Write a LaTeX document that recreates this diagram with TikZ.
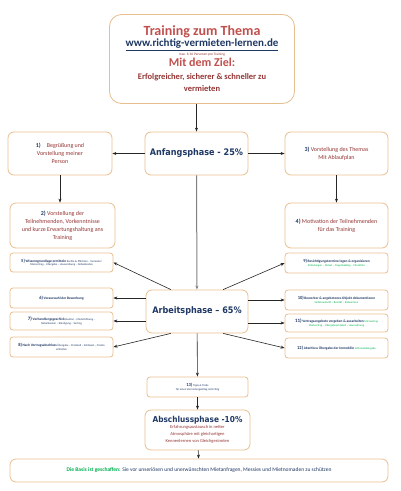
\documentclass[tikz,border=0pt]{standalone}
\usepackage{fontspec}
\setmainfont{Carlito}
\newfontfamily\phasefont{DejaVu Sans Condensed}
\usetikzlibrary{arrows.meta}
\definecolor{boxline}{HTML}{E9BE8E}
\definecolor{titlered}{HTML}{C0504D}
\definecolor{darkred}{HTML}{943634}
\definecolor{navy}{HTML}{1F3864}
\definecolor{basisgreen}{HTML}{00B050}
\definecolor{connector}{HTML}{262626}

\begin{document}
\begin{tikzpicture}[x=1pt,y=-1pt,
      box/.style={draw=boxline,line width=0.8pt,rounded corners=6pt,fill=white,
        align=center,inner sep=1pt},
      midbox/.style={box,font=\fontsize{6}{8}\selectfont,text=darkred},
      smallbox/.style={box,rounded corners=3pt,minimum width=103pt,
        font=\fontsize{2.8}{3.6}\selectfont,text=navy},
      phase/.style={box,font=\phasefont\fontsize{9}{10}\selectfont\bfseries,text=navy},
      pfeil/.style={-{Stealth[length=4pt,width=3pt]},line width=0.6pt,draw=connector}]
    \useasboundingbox (0,0) rectangle (400,491);
    % Kopf
    \node[box,rounded corners=12pt,minimum width=185pt,minimum height=89pt,font=\bfseries] (kopf) at (202,59)
      {\fontsize{14}{15}\selectfont\color{titlered}Training zum Thema\\[-1pt]
       \fontsize{11}{12}\selectfont\color{navy}\underline{www.richtig-vermieten-lernen.de}\\[-3pt]
       \fontsize{3.5}{4}\selectfont\mdseries\color{darkred}max. 6-10 Personen pro Training\\[-1pt]
       \fontsize{12}{13}\selectfont\color{titlered}Mit dem Ziel:\\[1pt]
       \fontsize{8.5}{11}\selectfont\color{darkred}Erfolgreicher, sicherer \& schneller zu\\
       \fontsize{8.5}{11}\selectfont\color{darkred}vermieten};
    % Anfangsphase
    \node[phase,minimum width=103pt,minimum height=43pt] (anfang) at (196.5,153.5) {Anfangsphase - 25\%};
    \node[midbox,minimum width=104pt,minimum height=43pt] (p1) at (60,153.5)
      {\textcolor{navy}{\bfseries 1)}\quad Begrüßung und\\ Vorstellung meiner\\ Person};
    \node[midbox,minimum width=105pt,minimum height=45pt] (p2) at (62.5,225.5)
      {\textcolor{navy}{\bfseries 2)} Vorstellung der\\ Teilnehmenden, Vorkenntnisse\\ und kurze Erwartungshaltung ans\\ Training};
    \node[midbox,minimum width=103pt,minimum height=43pt] (p3) at (336.5,153.5)
      {\textcolor{navy}{\bfseries 3)} Vorstellung des Themas\\ Mit Ablaufplan};
    \node[midbox,minimum width=103pt,minimum height=45pt] (p4) at (336.5,225.5)
      {\textcolor{navy}{\bfseries 4)} Motivation der Teilnehmenden\\ für das Training};
    % Arbeitsphase
    \node[phase,minimum width=102pt,minimum height=43pt] (arbeit) at (197,311.5) {Arbeitsphase – 65\%};
    \node[smallbox,minimum height=19pt] (p5) at (61.5,262.5)
      {{\fontsize{4.5}{5}\selectfont\bfseries 5)} {\fontsize{3.5}{4}\selectfont\bfseries Wissensgrundlage ermitteln}
       Rechte \& Pflichten – Vermieter\\
       Mietvertrag – Übergabe – Hausordnung – Nebenkosten};
    \node[smallbox,minimum height=20pt] (p6) at (61.5,298)
      {{\fontsize{4.5}{5}\selectfont\bfseries 6)} {\fontsize{3.5}{4}\selectfont\bfseries Vorauswahl der Bewerbung}};
    \node[smallbox,minimum height=18pt] (p7) at (61.5,321)
      {{\fontsize{5}{5}\selectfont\bfseries 7)} {\fontsize{3.5}{4}\selectfont\bfseries Verhandlungsgeschick}
       Kaution – Mieterhöhung –\\
       Nebenkosten – Kündigung – Vertrag};
    \node[smallbox,minimum height=20pt] (p8) at (61.5,347)
      {{\fontsize{4.5}{5}\selectfont\bfseries 8)} {\fontsize{3.5}{4}\selectfont\bfseries Nach Vertragsabschluss}
       Übergabe – Protokoll – Schlüssel – Fristen\\
       einhalten};
    \node[smallbox,minimum height=20pt] (p9) at (336.5,263)
      {{\fontsize{4.5}{5}\selectfont\bfseries 9)} {\fontsize{3.5}{4}\selectfont\bfseries Besichtigungstermine legen \& organisieren}\\
       \color{basisgreen}Einladungen – Ablauf – Fragenkatalog – Checkliste};
    \node[smallbox,minimum height=20pt] (p10) at (336.5,300)
      {{\fontsize{4.5}{5}\selectfont\bfseries 10)} {\fontsize{3.5}{4}\selectfont\bfseries Bewerber \& angebotenes Objekt dokumentieren}\\
       \color{basisgreen}Selbstauskunft – Bonität – Einkommen};
    \node[smallbox,minimum height=18pt] (p11) at (336.5,323)
      {{\fontsize{5}{5}\selectfont\bfseries 11)} {\fontsize{3.5}{4}\selectfont\bfseries Vertragsangebote vorgeben \& ausarbeiten}
       \textcolor{basisgreen}{Mietvertrag}\\
       \color{basisgreen}Mietvertrag – Übergabeprotokoll – Hausordnung};
    \node[smallbox,minimum height=20pt] (p12) at (336.5,348)
      {{\fontsize{4.5}{5}\selectfont\bfseries 12)} {\fontsize{3.5}{4}\selectfont\bfseries Abschluss Übergabe der Immobilie}
       \textcolor{basisgreen}{Schlüsselübergabe}};
    % Abschluss
    \node[smallbox,minimum width=101pt,minimum height=20pt] (p13) at (197.5,387)
      {{\fontsize{4.5}{5}\selectfont\bfseries 13)} Tipps \& Tricks\\
       für einen Vermietungsalltag mit Erfolg};
    \node[box,minimum width=105pt,minimum height=40pt,font=\fontsize{4.5}{7}\selectfont,text=darkred] (abschluss) at (197.5,430)
      {\phasefont\fontsize{8.2}{9}\selectfont\bfseries\color{navy}Abschlussphase -10\%\\[-1pt]
       Erfahrungsaustausch in netter\\
       Atmosphäre mit gleichartigen\\
       Kennenlernen von Gleichgesinnten};
    \node[box,minimum width=378pt,minimum height=23pt,font=\fontsize{5.5}{6}\selectfont,text=navy] (basis) at (199,470.5)
      {\textcolor{basisgreen}{\bfseries Die Basis ist geschaffen:} Sie vor unseriösen und unerwünschten Mietanfragen, Messies und Mietnomaden zu schützen};
    % Verbindungen
    \draw[pfeil] (anfang.north |- kopf.south) -- (anfang.north);
    \draw[pfeil] (anfang) -- (p1);
    \draw[pfeil] (anfang) -- (p3);
    \draw[pfeil] (p1.south) -- (p1.south |- p2.north);
    \draw[pfeil] (p3.south) -- (p3.south |- p4.north);
    \draw[pfeil,draw=gray,line width=1pt] (anfang) -- (arbeit);
    \draw[pfeil] (arbeit.140) -- (p5.east);
    \draw[pfeil] (arbeit.west |- p6) -- (p6.east);
    \draw[pfeil] (arbeit.west |- p7) -- (p7.east);
    \draw[pfeil] (arbeit.220) -- (p8.east);
    \draw[pfeil] (arbeit.40) -- (p9.west);
    \draw[pfeil] (arbeit.east |- p10) -- (p10.west);
    \draw[pfeil] (arbeit.east |- p11) -- (p11.west);
    \draw[pfeil] (arbeit.320) -- (p12.west);
    \draw[pfeil] (arbeit) -- (p13);
    \draw[pfeil] (p13) -- (abschluss);
    \draw[pfeil] (abschluss) -- (basis);
  \end{tikzpicture}
\end{document}
